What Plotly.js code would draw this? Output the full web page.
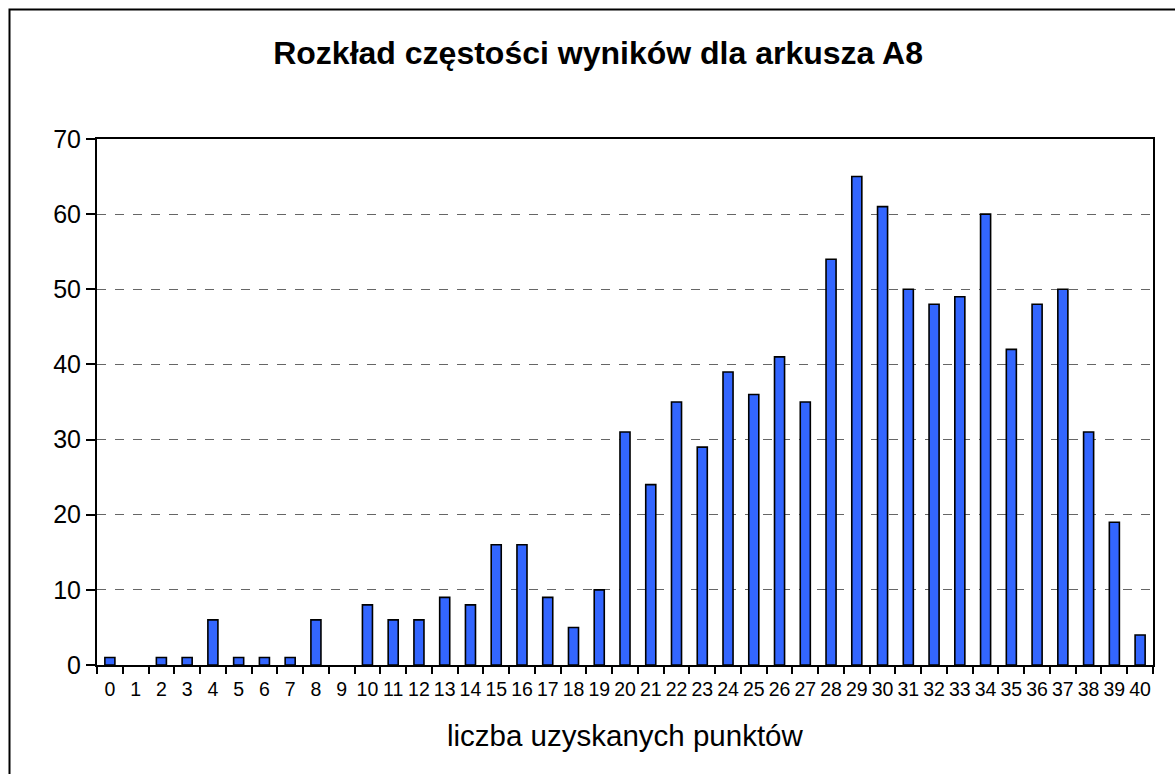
<!DOCTYPE html>
<html>
<head>
<meta charset="utf-8">
<script src="https://cdn.plot.ly/plotly-3.0.1.min.js"></script>
<style>html,body{margin:0;padding:0;background:#fff;}#chart{width:1175px;height:774px;}</style>
</head>
<body>
<div id="chart"></div>
<script>
const categories = ["0","1","2","3","4","5","6","7","8","9","10","11","12","13","14","15","16","17","18","19","20","21","22","23","24","25","26","27","28","29","30","31","32","33","34","35","36","37","38","39","40"];
const counts = [1,0,1,1,6,1,1,1,6,0,8,6,6,9,8,16,16,9,5,10,31,24,35,29,39,36,41,35,54,65,61,50,48,49,60,42,48,50,31,19,4];
const titleText = "Rozkład częstości wyników dla arkusza A8";
const xTitle = "liczba uzyskanych punktów";
const yTicks = [0,10,20,30,40,50,60,70];

const font = "Liberation Sans, Arial, sans-serif";
const trace = {
  type: "bar",
  x: categories,
  y: counts,
  marker: {color: "#3366ff", line: {color: "#000", width: counts.map(v => v === 0 ? 0 : 1.6)}},
  hoverinfo: "x+y"
};
const layout = {
  width: 1175, height: 774,
  margin: {l: 97, r: 22, t: 139, b: 109, pad: 0},
  paper_bgcolor: "#fff", plot_bgcolor: "#fff",
  bargap: 0.61,
  showlegend: false,
  font: {family: font, color: "#000"},
  title: {text: "<b>" + titleText + "</b>", font: {family: font, size: 32, color: "#000"}, x: 0.509, xanchor: "center", y: 0.932, yanchor: "middle"},
  xaxis: {
    type: "category",
    tickson: "boundaries",
    tickangle: 0,
    ticks: "outside", ticklen: 7, tickwidth: 2, tickcolor: "#000",
    ticklabelstandoff: 6,
    showline: true, linecolor: "#000", linewidth: 2, mirror: true,
    showgrid: false,
    tickfont: {family: font, size: 19.5, color: "#000"}
  },
  yaxis: {
    range: [0, 70],
    tickvals: yTicks,
    ticks: "outside", ticklen: 9, tickwidth: 2, tickcolor: "#000",
    showline: true, linecolor: "#000", linewidth: 2, mirror: true,
    showgrid: true, gridcolor: "#666", gridwidth: 1, griddash: "dash",
    zeroline: false,
    tickfont: {family: font, size: 25, color: "#000"}
  },
  annotations: [{
    text: xTitle, xref: "paper", yref: "paper", x: 0.5, y: (665 - 735) / 526,
    xanchor: "center", yanchor: "middle", showarrow: false,
    font: {family: font, size: 29.5, color: "#000"}
  }],
  shapes: [{
    type: "rect", xref: "paper", yref: "paper",
    x0: (9.5 - 97) / 1056, x1: (1190 - 97) / 1056,
    y0: (665 - 790) / 526, y1: (665 - 9.5) / 526,
    line: {color: "#000", width: 2}, fillcolor: "rgba(0,0,0,0)", layer: "below"
  }]
};
Plotly.newPlot("chart", [trace], layout, {displayModeBar: false, staticPlot: true});
</script>
</body>
</html>
